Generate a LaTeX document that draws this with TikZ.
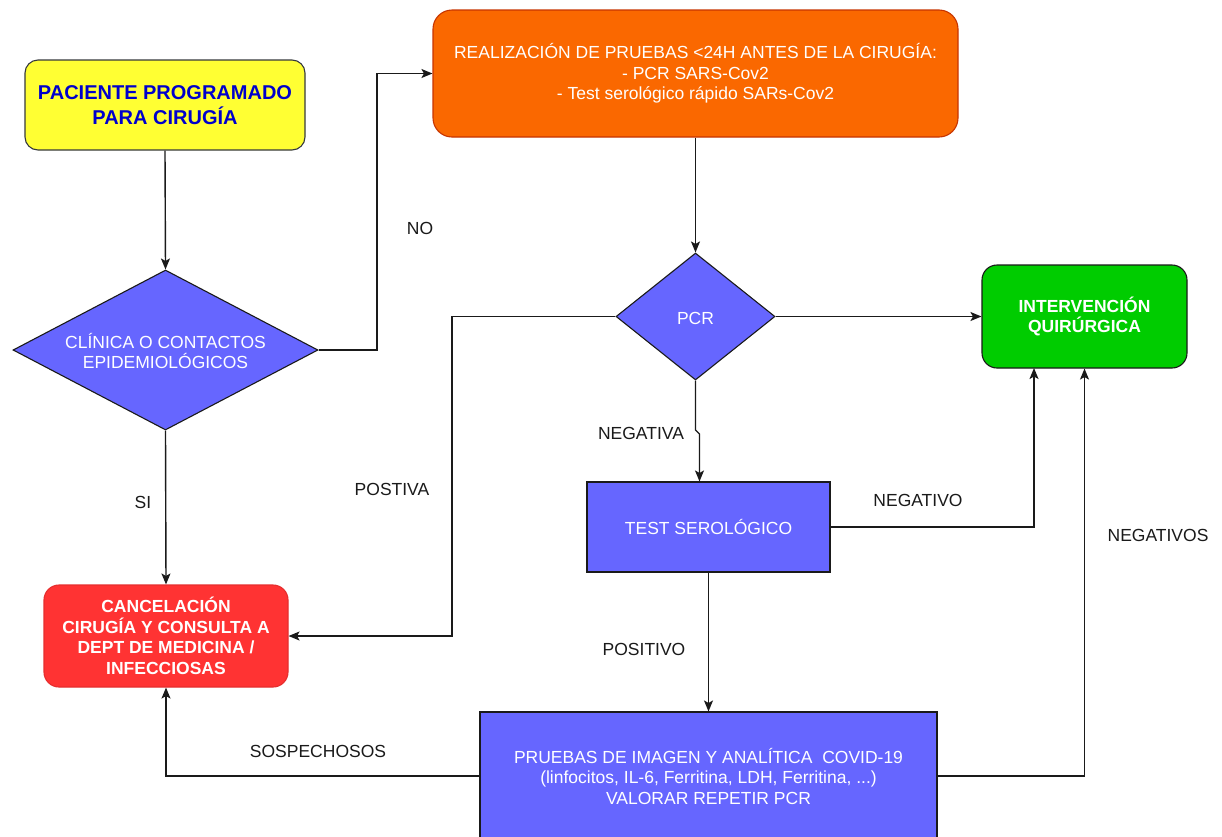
\documentclass[tikz,border=0pt]{standalone}
\usepackage{fontspec}
\setmainfont{Liberation Sans}
\usetikzlibrary{shapes.geometric,arrows.meta,calc}
\definecolor{cyel}{HTML}{FFFF33}
\definecolor{cyeld}{HTML}{36393D}
\definecolor{cora}{HTML}{FA6800}
\definecolor{corad}{HTML}{C73500}
\definecolor{cred}{HTML}{FF3333}
\definecolor{credd}{HTML}{E62E2E}
\definecolor{cgrn}{HTML}{00CC00}
\definecolor{cblu}{HTML}{6666FF}
\definecolor{ctxtb}{HTML}{0000CC}
\definecolor{cline}{HTML}{1A1A1A}
\begin{document}
\begin{tikzpicture}[x=1pt,y=-1pt,
  reg/.style={font=\fontsize{17.5}{20.5}\selectfont},
  bld/.style={font=\fontsize{17.5}{20.5}\selectfont\bfseries},
  box/.style={draw, line width=1.1pt, inner sep=0pt, align=center},
  dia/.style={diamond, draw=cline, fill=cblu, line width=1.1pt, inner sep=0pt},
  wtxt/.style={reg, text=white, align=center, inner sep=0pt},
  lbl/.style={reg, text=cline, inner sep=0pt},
  arr/.style={draw=cline, line width=1.4pt, -{Stealth[length=11pt,width=9pt,inset=2.5pt]}},
  ln/.style={draw=cline, line width=1.4pt}]
\useasboundingbox[fill=white] (0,0) rectangle (1222,836);

% nodes
\node[box, draw=cyeld, fill=cyel, rounded corners=13pt, minimum width=280, minimum height=90,
      text=ctxtb, font=\fontsize{20}{24.5}\selectfont\bfseries] (yel) at (165,105) {PACIENTE PROGRAMADO\\PARA CIRUGÍA};
\node[box, draw=corad, fill=cora, rounded corners=19pt, minimum width=525, minimum height=127,
      text=white, reg] (ora) at (695.5,73.5) {REALIZACIÓN DE PRUEBAS <24H ANTES DE LA CIRUGÍA:\\- PCR SARS-Cov2\\- Test serológico rápido SARs-Cov2};
\node[dia, minimum width=305, minimum height=160] (d1) at (165.5,350) {};
\node[wtxt] (d1t) at (165.5,351) {CLÍNICA O CONTACTOS\\EPIDEMIOLÓGICOS};
\node[box, draw=credd, fill=cred, rounded corners=15pt, minimum width=244, minimum height=102,
      text=white, bld] (red) at (166,636) {CANCELACIÓN\\CIRUGÍA Y CONSULTA A\\DEPT DE MEDICINA /\\INFECCIOSAS};
\node[dia, minimum width=159, minimum height=127] (pcr) at (695.5,316.5) {};
\node[wtxt] (pcrt) at (695.5,318) {PCR};
\node[box, draw=cline, fill=cgrn, rounded corners=15pt, minimum width=205, minimum height=103,
      text=white, bld] (grn) at (1084.5,316.5) {INTERVENCIÓN\\QUIRÚRGICA};
\node[box, draw=cline, fill=cblu, minimum width=243, minimum height=90,
      text=white, reg] (test) at (708.5,527) {TEST SEROLÓGICO};
\node[box, draw=cline, fill=cblu, minimum width=457, minimum height=128,
      text=white, reg] (bot) at (708.5,776) {PRUEBAS DE IMAGEN Y ANALÍTICA \ COVID-19\\(linfocitos, IL-6, Ferritina, LDH, Ferritina, ...)\\VALORAR REPETIR PCR};

% helper coordinates
\coordinate (c1) at (377,350);
\coordinate (c2) at (452,316.5);
\coordinate (j1) at (695.5,430);
\coordinate (j2) at (699.5,434);
\coordinate (g1) at (1034,368);

% connectors
\draw[arr] (yel.south) -- (d1.north);
\draw[arr] (d1.east) -- (c1) |- (ora.west);
\draw[arr] (d1.south) -- (red.north);
\draw[arr] (ora.south) -- (pcr.north);
\draw[arr] (pcr.east) -- (grn.west);
\draw[arr] (pcr.west) -- (c2) |- (red.east);
\draw[arr] (pcr.south) -- (j1) -- (j2) -- (j2 |- test.north);
\draw[arr] (test.east) -| (g1);
\draw[arr] (test.south) -- (bot.north);
\draw[arr] (bot.west) -| (red.south);
\draw[arr] (bot.east) -| (grn.south);

% labels
\node[lbl] (lno) at (420,228) {NO};
\node[lbl] (lsi) at (143,502) {SI};
\node[lbl] (lpostiva) at (392,489) {POSTIVA};
\node[lbl] (lnegativa) at (641,433) {NEGATIVA};
\node[lbl] (lnegativo) at (918,500) {NEGATIVO};
\node[lbl] (lpositivo) at (644,649) {POSITIVO};
\node[lbl] (lsosp) at (318,751) {SOSPECHOSOS};
\node[lbl] (lnegativos) at (1158,535) {NEGATIVOS};
\end{tikzpicture}
\end{document}
